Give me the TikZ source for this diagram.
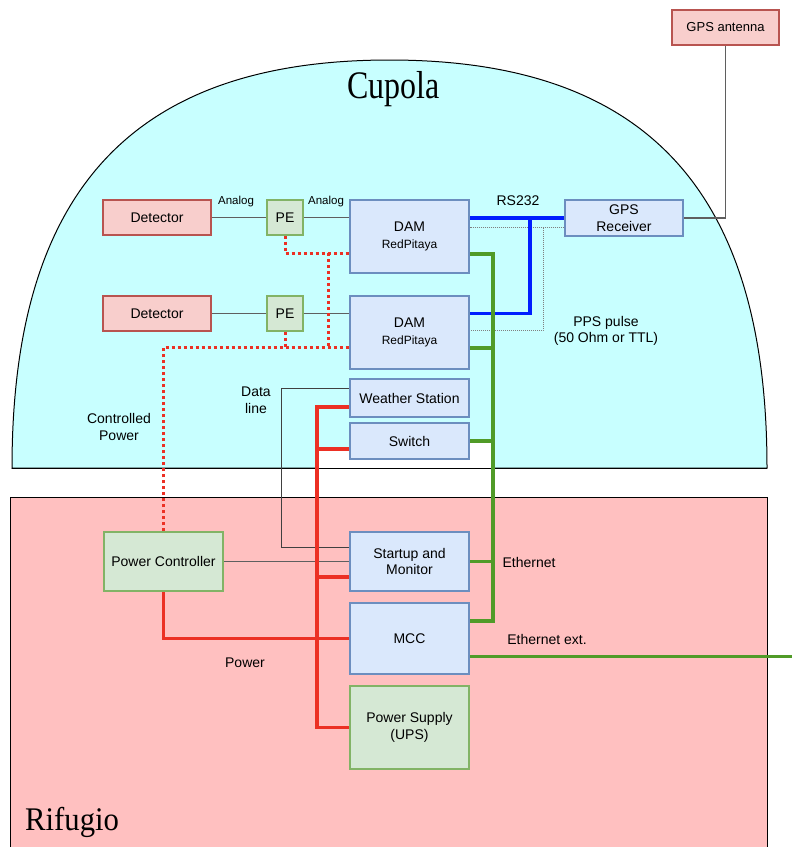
\documentclass[tikz,border=0pt]{standalone}
\usepackage{fontspec}
\setmainfont{Liberation Sans}
\newfontfamily\titlefont{Liberation Serif}
\usetikzlibrary{calc}
\pgfdeclarelayer{back}
\pgfdeclarelayer{mid}
\pgfsetlayers{back,mid,main}
\definecolor{cupolafill}{RGB}{200,255,255}
\definecolor{rifugiofill}{RGB}{255,192,192}
\definecolor{redfill}{HTML}{F8CECC}
\definecolor{redline}{HTML}{B85450}
\definecolor{greenfill}{HTML}{D5E8D4}
\definecolor{greenline}{HTML}{82B366}
\definecolor{bluefill}{HTML}{DAE8FC}
\definecolor{blueline}{HTML}{6C8EBF}
\definecolor{wire}{RGB}{95,95,95}
\definecolor{powred}{RGB}{236,48,36}
\definecolor{ethgreen}{RGB}{80,155,40}
\definecolor{rsblue}{RGB}{0,30,255}
\tikzset{
  base/.style={draw, line width=1.1pt, inner sep=0pt, align=center, text=black, font=\fontsize{14}{16.5}\selectfont},
  redbox/.style={base, fill=redfill, draw=redline},
  greenbox/.style={base, fill=greenfill, draw=greenline},
  bluebox/.style={base, fill=bluefill, draw=blueline},
  sig/.style={draw=wire, line width=1.3pt},
  thinwire/.style={draw=black!75, line width=1pt},
  rsline/.style={draw=rsblue, line width=3.5pt},
  ethline/.style={draw=ethgreen, line width=3.5pt},
  powline/.style={draw=powred, line width=3.3pt},
  cpowline/.style={draw=powred, line width=3pt, dash pattern=on 3pt off 3pt},
  ppsline/.style={draw=gray, line width=1pt, dash pattern=on 1pt off 1pt},
  lbl/.style={font=\fontsize{14}{16.5}\selectfont, align=center, inner sep=0pt},
  smalllbl/.style={font=\fontsize{11.5}{13}\selectfont, inner sep=0pt},
}
\begin{document}
\begin{tikzpicture}[x=1pt,y=-1pt]
\useasboundingbox (0,0) rectangle (792,847);
% regions
\begin{pgfonlayer}{back}
\fill[white] (0,0) rectangle (792,847);
\draw[line width=1pt, fill=cupolafill] (12,468) .. controls (12,190.6) and (132.8,60) .. (389.5,60) .. controls (646.2,60) and (767,190.6) .. (767,468) -- cycle;
\fill[white] (317,449) -- (350,449) -- (350,441) -- (493,441) -- (493,468) -- (317,468) -- cycle;
\draw[line width=0.6pt] (12,468) -- (767,468);
\draw[line width=1pt, fill=rifugiofill] (10,497) rectangle (767,880);
\end{pgfonlayer}
\node[font=\titlefont\fontsize{39}{42}\selectfont, xscale=0.82, anchor=base, inner sep=0pt] (cupola) at (393.5,98) {Cupola};
\node[font=\titlefont\fontsize{33}{36}\selectfont, xscale=0.93, anchor=base west, inner sep=0pt] (rifugio) at (25,830) {Rifugio};
% nodes
\node[redbox, minimum width=107pt, minimum height=35pt, font=\fontsize{13}{15}\selectfont] (ant) at (725.5,27.5) {GPS antenna};
\node[redbox, minimum width=108pt, minimum height=35pt] (det1) at (157,217.5) {Detector};
\node[redbox, minimum width=108pt, minimum height=35pt] (det2) at (157,313.5) {Detector};
\node[greenbox, minimum width=36pt, minimum height=35pt] (pe1) at (285,217.5) {PE};
\node[greenbox, minimum width=36pt, minimum height=35pt] (pe2) at (285,313.5) {PE};
\node[bluebox, minimum width=119pt, minimum height=73pt] (dam1) at (409.5,236.5) {DAM\\{\fontsize{12}{15}\selectfont RedPitaya}};
\node[bluebox, minimum width=119pt, minimum height=73pt] (dam2) at (409.5,332.5) {DAM\\{\fontsize{12}{15}\selectfont RedPitaya}};
\node[bluebox, minimum width=118pt, minimum height=36pt] (gps) at (624,218) {GPS\\Receiver};
\node[bluebox, minimum width=119pt, minimum height=38pt] (ws) at (409.5,398) {Weather Station};
\node[bluebox, minimum width=119pt, minimum height=36pt] (sw) at (409.5,441) {Switch};
\node[bluebox, minimum width=119pt, minimum height=59pt] (st) at (409.5,561.5) {Startup and\\Monitor};
\node[bluebox, minimum width=119pt, minimum height=71pt] (mcc) at (409.5,638.5) {MCC};
\node[greenbox, minimum width=119pt, minimum height=83pt] (ps) at (409.5,727.5) {Power Supply\\(UPS)};
\node[greenbox, minimum width=119pt, minimum height=59pt] (pc) at (163.5,561.5) {Power Controller};
% helper coordinates
\coordinate (ethx) at (493,0);
\coordinate (rsx) at (530,0);
\coordinate (ppsx) at (543,0);
\coordinate (cpx) at (328,0);
\coordinate (dlx) at (281,0);
\coordinate (pwx) at (317,0);
\coordinate (edge) at (792,0);
\begin{pgfonlayer}{mid}
% analog signal lines
\draw[sig] (det1.east) -- (pe1.west);
\draw[sig] (det2.east) -- (pe2.west);
\draw[sig] (pe1.east) -- (pe1.east -| dam1.west);
\draw[sig] (pe2.east) -- (pe2.east -| dam2.west);
% antenna
\draw[sig] (ant.south) |- (gps.east);
% PPS
\coordinate (ppsg) at ($(gps.west)+(0,9.5)$);
\coordinate (ppsd) at ($(dam2.east)+(0,-2.5)$);
\draw[ppsline] (ppsg) -- (ppsg -| dam1.east);
\draw[ppsline] (ppsg -| ppsx) |- (ppsd);
% RS232
\draw[rsline] (gps.west) -- (gps.west -| dam1.east);
\draw[rsline] (gps.west -| rsx) |- (pe2.east -| dam2.east);
% Ethernet
\coordinate (e1) at ($(dam1.east)+(0,17.5)$);
\coordinate (e2) at ($(dam2.east)+(0,15.5)$);
\coordinate (e5) at ($(mcc.east)+(0,-17.5)$);
\coordinate (e6) at ($(mcc.east)+(0,18)$);
\draw[ethline] (e1) -| (ethx |- e5) -- (e5);
\draw[ethline] (e2) -- (e2 -| ethx);
\draw[ethline] (sw.east) -- (sw.east -| ethx);
\draw[ethline] (st.east) -- (st.east -| ethx);
\draw[ethline] (e6) -- (e6 -| edge);
% controlled power
\coordinate (c1) at ($(dam1.west)+(0,16.5)$);
\coordinate (c2) at ($(dam2.west)+(0,15)$);
\draw[cpowline] (pc.north) |- (c2);
\draw[cpowline] (pe1.south) |- (c1);
\draw[cpowline] (pe2.south) -- (pe2.south |- c2);
\draw[cpowline] (cpx |- c1) -- (cpx |- c2);
% data line
\coordinate (d1) at ($(ws.west)+(0,-10)$);
\coordinate (d2) at ($(st.west)+(0,-14.5)$);
\draw[thinwire] (d1) -| (dlx |- d2) -- (d2);
\draw[sig] (pc.east) -- (st.west);
% power
\coordinate (p1) at ($(ws.west)+(0,9)$);
\coordinate (p2) at ($(sw.west)+(0,8)$);
\coordinate (p3) at ($(st.west)+(0,15.5)$);
\draw[powline] (p1) -| (pwx |- ps.west) -- (ps.west);
\draw[powline] (p2) -- (p2 -| pwx);
\draw[powline] (p3) -- (p3 -| pwx);
\draw[powline] (pc.south) |- (mcc.west);
\end{pgfonlayer}
% labels
\node[smalllbl] (an1) at (236,202) {Analog};
\node[smalllbl] (an2) at (326,202) {Analog};
\node[lbl] (rsl) at (518,201) {RS232};
\node[lbl] (ppsl) at (606,331) {PPS pulse\\(50 Ohm or TTL)};
\node[lbl] (cpl) at (119,427) {Controlled\\Power};
\node[lbl] (dll) at (256,400) {Data\\line};
\node[lbl] (ethl) at (529,562) {Ethernet};
\node[lbl] (ethextl) at (547,639) {Ethernet ext.};
\node[lbl] (powl) at (245,663) {Power};
\end{tikzpicture}
\end{document}
